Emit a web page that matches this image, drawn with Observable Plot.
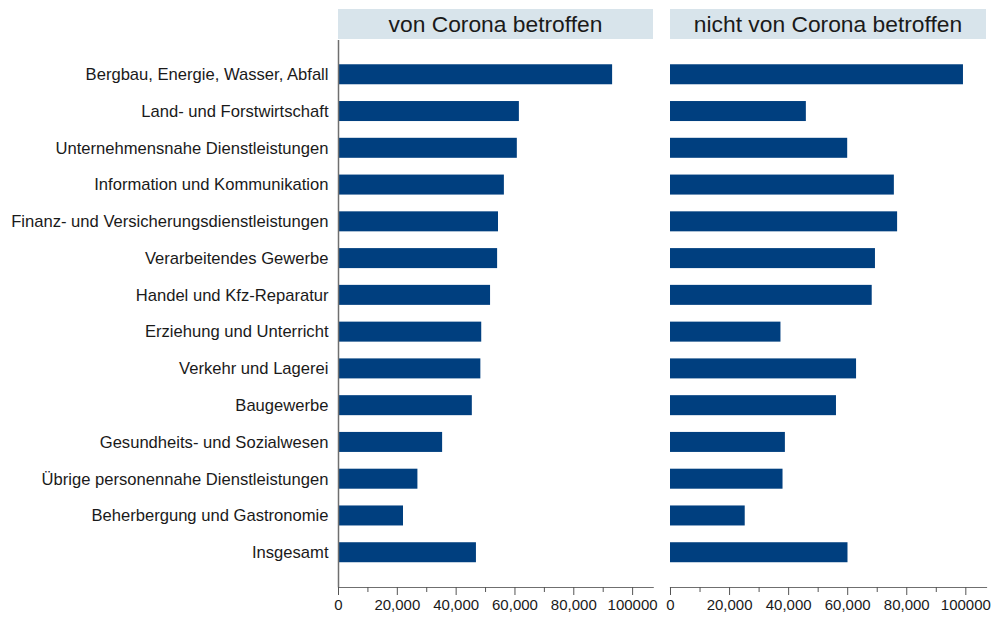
<!DOCTYPE html>
<html>
<head>
<meta charset="utf-8">
<script src="https://cdn.jsdelivr.net/npm/d3@7"></script>
<script src="https://cdn.jsdelivr.net/npm/@observablehq/plot@0.6"></script>
<style>
  body { margin: 0; background: white; }
  #wrap { position: relative; width: 993px; height: 619px; overflow: hidden; font-family: "Liberation Sans", Arial, sans-serif; }
  .hdr { position: absolute; top: 9px; height: 30px; background: #d8e4eb; color: #1a1a1a; font-size: 22.8px; line-height: 30px; text-align: center; }
  .pl { position: absolute; top: 0; }
  svg { overflow: visible; }
</style>
</head>
<body>
<div id="wrap"></div>
<script>
const categories = [
  "Bergbau, Energie, Wasser, Abfall",
  "Land- und Forstwirtschaft",
  "Unternehmensnahe Dienstleistungen",
  "Information und Kommunikation",
  "Finanz- und Versicherungsdienstleistungen",
  "Verarbeitendes Gewerbe",
  "Handel und Kfz-Reparatur",
  "Erziehung und Unterricht",
  "Verkehr und Lagerei",
  "Baugewerbe",
  "Gesundheits- und Sozialwesen",
  "Übrige personennahe Dienstleistungen",
  "Beherbergung und Gastronomie",
  "Insgesamt"
];
const affected = [93200, 61500, 60800, 56400, 54400, 54100, 51700, 48700, 48400, 45500, 35400, 27000, 22100, 46900];
const notAffected = [99200, 46000, 60000, 75800, 76900, 69400, 68300, 37400, 63000, 56200, 38900, 38100, 25300, 60100];
const panels = ["von Corona betroffen", "nicht von Corona betroffen"];
const majorTicks = [0, 20000, 40000, 60000, 80000, 100000];
const minorTicks = [10000, 30000, 50000, 70000, 90000];

const fmt = d => d === 100000 ? "100000" : d3.format(",")(d);

function panel(values, {width, marginLeft, marginRight, showY}) {
  const data = categories.map((c, i) => ({category: c, value: values[i]}));
  return Plot.plot({
    width, height: 619,
    marginTop: 40, marginBottom: 32, marginLeft, marginRight,
    x: {domain: [0, 107000], label: null},
    y: {domain: categories, padding: 0.456, round: false, insetTop: 7.5, insetBottom: 8, label: null, axis: showY ? undefined : null},
    style: {fontFamily: "'Liberation Sans', Arial, sans-serif", background: "transparent", overflow: "visible"},
    marks: [
      Plot.barX(data, {x: "value", y: "category", fill: "#003f7f"}),
      Plot.frame({anchor: "bottom", stroke: "#6f6f6f", strokeWidth: 1.2}),
      showY ? Plot.ruleX([0], {stroke: "#6f6f6f", strokeWidth: 1.5}) : null,
      Plot.axisX(majorTicks, {tickSize: 8, tickPadding: 4, tickFormat: fmt, fontSize: 15, stroke: "#555", fill: "#1a1a1a", label: null}),
      Plot.axisX(minorTicks, {tickSize: 5, tickFormat: () => "", stroke: "#555", label: null}),
      showY ? Plot.axisY({tickSize: 0, tickPadding: 10, fontSize: 16.6, fill: "#1a1a1a", label: null}) : null
    ]
  });
}

const wrap = document.getElementById("wrap");
const left = panel(affected, {width: 660, marginLeft: 338, marginRight: 7.3, showY: true});
left.classList.add("pl"); left.style.left = "0px";
const right = panel(notAffected, {width: 333, marginLeft: 10, marginRight: 7, showY: false});
right.classList.add("pl"); right.style.left = "660px";
wrap.appendChild(left);
wrap.appendChild(right);

[[panels[0], 338, 315], [panels[1], 670, 316]].forEach(([t, x, w]) => {
  const h = document.createElement("div");
  h.className = "hdr";
  h.style.left = x + "px";
  h.style.width = w + "px";
  h.textContent = t;
  wrap.appendChild(h);
});
</script>
</body>
</html>
